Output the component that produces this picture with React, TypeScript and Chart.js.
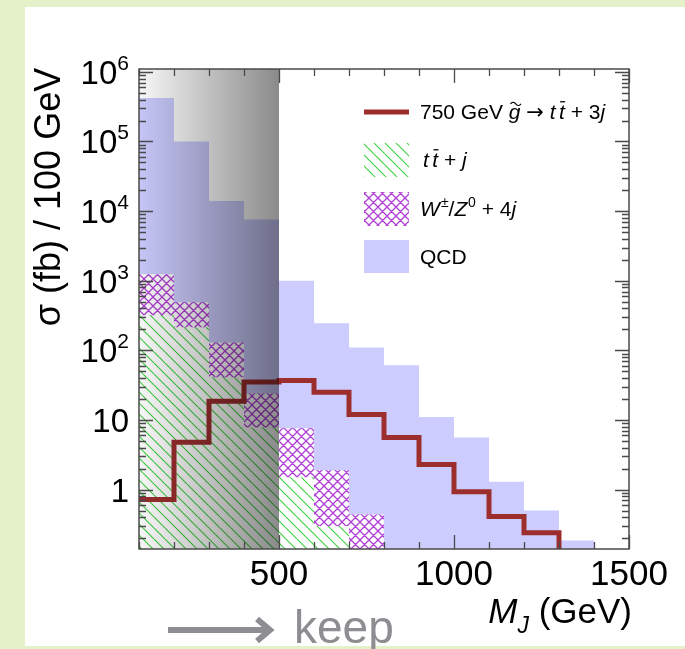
import React, { useEffect, useRef } from 'react';
import { Chart, registerables } from 'chart.js';

Chart.register(...registerables);

// ---------------- data ----------------
const binEdges = [100, 200, 300, 400, 500, 600, 700, 800, 900, 1000, 1100, 1200, 1300, 1400, 1500];
const qcdValues = [4.2e5, 1.0e5, 1.4e4, 7.6e3, 1.0e3, 245, 110, 61, 11, 5.6, 1.3, 0.5, 0.185, 0];
const wzValues = [1240, 490, 130, 24, 7.6, 1.9, 0.44, 0, 0, 0, 0, 0, 0, 0];
const ttbarValues = [318, 215, 41, 7.8, 1.5, 0.3, 0, 0, 0, 0, 0, 0, 0, 0];
const signalValues = [0.72, 4.8, 18.5, 35, 37, 25, 12, 5.6, 2.3, 0.93, 0.41, 0.24, 0, 0];
const xTickLabels = [500, 1000, 1500];
const yDecades = [0, 1, 2, 3, 4, 5, 6];
const xMin = 100;
const xMax = 1500;
const yMin = 0.14;
const yMax = 1.1e6;
const cutValue = 500;

const FLOOR = 1e-4;
const FONT = '"Liberation Sans", Arial, Helvetica, sans-serif';

function stepPoints(values: number[]) {
  let last = values.length - 1;
  while (last >= 0 && !(values[last] > 0)) last--;
  const pts: { x: number; y: number }[] = [];
  for (let i = 0; i <= last; i++) pts.push({ x: binEdges[i], y: values[i] > 0 ? values[i] : FLOOR });
  pts.push({ x: binEdges[last + 1], y: FLOOR });
  return pts;
}

function makeHatch(kind: 'diag' | 'cross', color: string, size: number, lw: number) {
  const c = document.createElement('canvas');
  c.width = size;
  c.height = size;
  const g = c.getContext('2d')!;
  g.fillStyle = '#ffffff';
  g.fillRect(0, 0, size, size);
  g.strokeStyle = color;
  g.lineWidth = lw;
  g.beginPath();
  for (let k = -1; k <= 1; k++) {
    g.moveTo(k * size, 0);
    g.lineTo(k * size + size, size);
    if (kind === 'cross') {
      g.moveTo(k * size + size, 0);
      g.lineTo(k * size, size);
    }
  }
  g.stroke();
  return g.createPattern(c, 'repeat')!;
}

type Run = { t: string; size: number; italic?: boolean; dy?: number; over?: 'tilde' | 'bar'; family?: string };

function fontOf(r: Run) {
  return `${r.italic ? 'italic ' : ''}${r.size}px ${r.family || FONT}`;
}

function runsWidth(ctx: CanvasRenderingContext2D, runs: Run[]) {
  let w = 0;
  for (const r of runs) {
    ctx.font = fontOf(r);
    w += ctx.measureText(r.t).width;
  }
  return w;
}

function drawRuns(ctx: CanvasRenderingContext2D, runs: Run[], x: number, y: number, align: 'left' | 'right' | 'center', color: string) {
  const w = runsWidth(ctx, runs);
  let cx = align === 'left' ? x : align === 'right' ? x - w : x - w / 2;
  ctx.fillStyle = color;
  ctx.strokeStyle = color;
  ctx.textAlign = 'left';
  ctx.textBaseline = 'alphabetic';
  for (const r of runs) {
    ctx.font = fontOf(r);
    const rw = ctx.measureText(r.t).width;
    const by = y + (r.dy || 0);
    ctx.fillText(r.t, cx, by);
    if (r.over === 'bar') {
      ctx.lineWidth = 1.3;
      ctx.beginPath();
      ctx.moveTo(cx + rw * 0.2, by - r.size * 0.82);
      ctx.lineTo(cx + rw * 1.05, by - r.size * 0.82);
      ctx.stroke();
    } else if (r.over === 'tilde') {
      ctx.lineWidth = 1.2;
      ctx.beginPath();
      const ty = by - r.size * 0.72;
      const x0 = cx + rw * 0.15;
      const x1 = cx + rw * 1.05;
      for (let i = 0; i <= 12; i++) {
        const f = i / 12;
        const px = x0 + (x1 - x0) * f;
        const py = ty - Math.sin(f * Math.PI * 2) * 1.6;
        if (i === 0) ctx.moveTo(px, py);
        else ctx.lineTo(px, py);
      }
      ctx.stroke();
    }
    cx += rw;
  }
}

const signalColor = '#9d2e2e';
const qcdColor = '#ccccff';
const ttColor = '#3fcf3f';
const wzColor = '#b03fd6';

export default function App() {
  const ref = useRef<HTMLCanvasElement | null>(null);

  useEffect(() => {
    const canvas = ref.current;
    if (!canvas) return;
    const ttPattern = makeHatch('diag', ttColor, 11, 1.1);
    const wzPattern = makeHatch('cross', wzColor, 9, 1.3);

    const decor = {
      id: 'decor',
      beforeDraw(chart: any) {
        const ctx = chart.ctx as CanvasRenderingContext2D;
        ctx.save();
        ctx.fillStyle = '#ffffff';
        ctx.fillRect(25, 7, 660, 639);
        ctx.restore();
      },
      afterDatasetsDraw(chart: any) {
        const ctx = chart.ctx as CanvasRenderingContext2D;
        const area = chart.chartArea;
        const xs = chart.scales.x;
        const ys = chart.scales.y;
        ctx.save();

        // gray shading over rejected region
        const x0 = xs.getPixelForValue(xMin);
        const x1 = xs.getPixelForValue(cutValue);
        const grad = ctx.createLinearGradient(x0, 0, x1, 0);
        grad.addColorStop(0, 'rgba(0,0,0,0.03)');
        grad.addColorStop(1, 'rgba(0,0,0,0.46)');
        ctx.fillStyle = grad;
        ctx.fillRect(x0, area.top, x1 - x0, area.bottom - area.top);

        // frame
        ctx.strokeStyle = '#4a4a4a';
        ctx.lineWidth = 1.5;
        ctx.strokeRect(area.left, area.top, area.right - area.left, area.bottom - area.top);

        // x ticks
        ctx.lineWidth = 1.3;
        ctx.beginPath();
        for (let v = xMin; v <= xMax; v += 100) {
          const px = Math.round(xs.getPixelForValue(v)) + 0.5;
          const len = v % 500 === 0 ? 14 : 7;
          ctx.moveTo(px, area.bottom);
          ctx.lineTo(px, area.bottom - len);
          ctx.moveTo(px, area.top);
          ctx.lineTo(px, area.top + len);
        }
        // y ticks
        for (let d = -1; d <= 6; d++) {
          for (let m = 1; m <= 9; m++) {
            const v = m * Math.pow(10, d);
            if (v < yMin || v > yMax) continue;
            const py = Math.round(ys.getPixelForValue(v)) + 0.5;
            const len = m === 1 ? 14 : 7;
            ctx.moveTo(area.left, py);
            ctx.lineTo(area.left + len, py);
            ctx.moveTo(area.right, py);
            ctx.lineTo(area.right - len, py);
          }
        }
        ctx.stroke();

        // x tick labels
        for (const v of xTickLabels) {
          drawRuns(ctx, [{ t: String(v), size: 35 }], xs.getPixelForValue(v), 585, 'center', '#000');
        }
        // y tick labels
        for (const d of yDecades) {
          const py = ys.getPixelForValue(Math.pow(10, d));
          let runs: Run[];
          if (d === 0) runs = [{ t: '1', size: 33 }];
          else if (d === 1) runs = [{ t: '10', size: 33 }];
          else runs = [{ t: '10', size: 33 }, { t: String(d), size: 21, dy: -14 }];
          drawRuns(ctx, runs, 129, py + 12, 'right', '#000');
        }

        // axis titles
        drawRuns(ctx, [
          { t: 'M', size: 35, italic: true },
          { t: 'J', size: 23, italic: true, dy: 10 },
          { t: ' (GeV)', size: 35 },
        ], 632, 623, 'right', '#000');

        ctx.save();
        ctx.translate(60, 197);
        ctx.rotate(-Math.PI / 2);
        drawRuns(ctx, [{ t: '\u03c3 (fb) / 100 GeV', size: 36 }], 0, 0, 'center', '#000');
        ctx.restore();

        // legend
        const lx0 = 364;
        const lx1 = 409;
        const tx = 420;
        const ls = 21;
        ctx.strokeStyle = signalColor;
        ctx.lineWidth = 5;
        ctx.beginPath();
        ctx.moveTo(lx0, 112);
        ctx.lineTo(lx1, 112);
        ctx.stroke();
        drawRuns(ctx, [
          { t: '750 GeV ', size: ls },
          { t: 'g', size: ls, italic: true, over: 'tilde' },
          { t: ' ', size: ls },
          { t: '\u2192', size: ls, family: '"DejaVu Sans", sans-serif' },
          { t: ' ', size: ls },
          { t: 't', size: ls, italic: true },
          { t: ' ', size: ls * 0.6 },
          { t: 't', size: ls, italic: true, over: 'bar' },
          { t: ' + 3', size: ls },
          { t: 'j', size: ls, italic: true },
        ], tx, 119, 'left', '#000');

        ctx.fillStyle = ttPattern;
        ctx.fillRect(lx0, 143, lx1 - lx0, 34);
        drawRuns(ctx, [
          { t: 't', size: ls, italic: true },
          { t: ' ', size: ls * 0.6 },
          { t: 't', size: ls, italic: true, over: 'bar' },
          { t: ' + ', size: ls },
          { t: 'j', size: ls, italic: true },
        ], tx + 3, 167, 'left', '#000');

        ctx.fillStyle = wzPattern;
        ctx.fillRect(lx0, 192, lx1 - lx0, 34);
        drawRuns(ctx, [
          { t: 'W', size: ls, italic: true },
          { t: ' ', size: 4 },
          { t: '\u00b1', size: 14, dy: -9 },
          { t: '/', size: ls },
          { t: 'Z', size: ls, italic: true },
          { t: ' ', size: 3 },
          { t: '0', size: 14, dy: -9 },
          { t: ' + 4', size: ls },
          { t: 'j', size: ls, italic: true },
        ], tx, 216, 'left', '#000');

        ctx.fillStyle = qcdColor;
        ctx.fillRect(lx0, 240, lx1 - lx0, 33);
        drawRuns(ctx, [{ t: 'QCD', size: ls }], tx, 264, 'left', '#000');

        // keep arrow
        const gray = '#8e8e92';
        ctx.strokeStyle = gray;
        ctx.lineWidth = 6;
        ctx.lineCap = 'butt';
        ctx.lineJoin = 'miter';
        ctx.beginPath();
        ctx.moveTo(168, 630);
        ctx.lineTo(268, 630);
        ctx.stroke();
        ctx.beginPath();
        ctx.moveTo(257, 619);
        ctx.lineTo(270, 630);
        ctx.lineTo(257, 641);
        ctx.stroke();
        drawRuns(ctx, [{ t: 'keep', size: 46 }], 294, 643, 'left', gray);

        ctx.restore();
      },
    };

    const chart = new Chart(canvas, {
      type: 'line',
      data: {
        datasets: [
          {
            label: 'signal',
            data: stepPoints(signalValues),
            stepped: 'before',
            borderColor: signalColor,
            borderWidth: 5,
            borderJoinStyle: 'miter',
            borderCapStyle: 'butt',
            pointRadius: 0,
            fill: false,
          },
          {
            label: 'ttbar',
            data: stepPoints(ttbarValues),
            stepped: 'before',
            borderWidth: 0,
            borderColor: 'rgba(0,0,0,0)',
            backgroundColor: ttPattern,
            pointRadius: 0,
            fill: 'start',
          },
          {
            label: 'wz',
            data: stepPoints(wzValues),
            stepped: 'before',
            borderWidth: 0,
            borderColor: 'rgba(0,0,0,0)',
            backgroundColor: wzPattern,
            pointRadius: 0,
            fill: 'start',
          },
          {
            label: 'qcd',
            data: stepPoints(qcdValues),
            stepped: 'before',
            borderWidth: 0,
            borderColor: 'rgba(0,0,0,0)',
            backgroundColor: qcdColor,
            pointRadius: 0,
            fill: 'start',
          },
        ],
      } as any,
      options: {
        animation: false,
        responsive: false,
        maintainAspectRatio: false,
        devicePixelRatio: 1,
        layout: { padding: { left: 139, right: 56, top: 69, bottom: 100 } },
        scales: {
          x: { type: 'linear', min: xMin, max: xMax, display: false },
          y: { type: 'logarithmic', min: yMin, max: yMax, display: false },
        },
        plugins: { legend: { display: false }, tooltip: { enabled: false } },
        events: [],
      } as any,
      plugins: [decor],
    });
    return () => chart.destroy();
  }, []);

  return (
    <div style={{ position: 'absolute', left: 0, top: 0, width: 685, height: 649, background: '#e5f1c8' }}>
      <canvas ref={ref} width={685} height={649} style={{ display: 'block', width: 685, height: 649 }} />
    </div>
  );
}
